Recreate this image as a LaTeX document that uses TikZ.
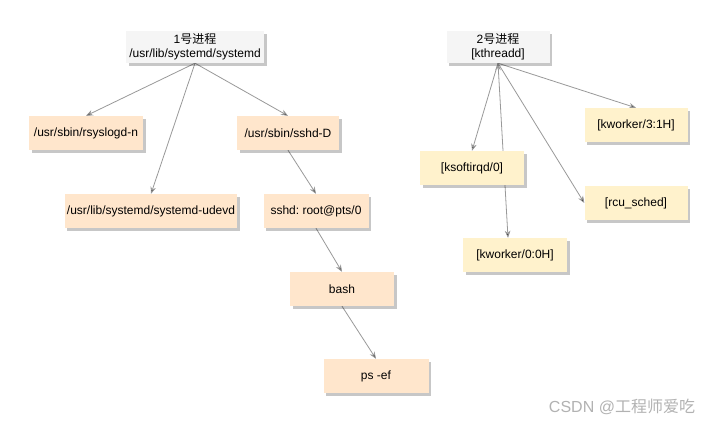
\documentclass[tikz,border=0pt]{standalone}
\usepackage{fontspec}
\setmainfont{Liberation Sans}
\newfontfamily\cjkfont{Noto Sans CJK SC}
\usepackage{tikz}
\usetikzlibrary{arrows.meta,shadows,backgrounds}
\frenchspacing

\definecolor{rootgray}{HTML}{F5F5F5}
\definecolor{peach}{HTML}{FFE6CC}
\definecolor{cream}{HTML}{FFF2CC}
\definecolor{edgegray}{HTML}{999999}

\tikzset{
  proc/.style={rectangle, minimum height=34pt, inner sep=2pt,
    font=\fontsize{12}{14}\selectfont,
    drop shadow={shadow xshift=2.5pt, shadow yshift=-2.5pt, fill=black, opacity=0.22}},
  userproc/.style={proc, fill=peach},
  kernproc/.style={proc, fill=cream},
  rootproc/.style={proc, fill=rootgray, minimum height=32pt, align=center},
  link/.style={draw=edgegray, line width=0.8pt, -{Stealth[length=7pt,width=5.5pt]}}
}

\begin{document}
\begin{tikzpicture}[x=1pt,y=-1pt]
  \useasboundingbox (0,0) rectangle (720,426);

  % user space, started by systemd
  \node[rootproc, minimum width=138pt] (p_1) at (195,47) {1\cjkfont 号进程\\/usr/lib/systemd/systemd};
  \node[userproc, minimum width=114pt] (rsyslogd) at (86,133) {/usr/sbin/rsyslogd-n};
  \node[userproc, minimum width=172pt] (udevd) at (151,211) {/usr/lib/systemd/systemd-udevd};
  \node[userproc, minimum width=102pt] (sshd_d) at (288,133) {/usr/sbin/sshd-D};
  \node[userproc, minimum width=105pt] (sshd_pts) at (316,211) {sshd: root@pts/0};
  \node[userproc, minimum width=104pt] (bash) at (342,289) {bash};
  \node[userproc, minimum width=105pt] (ps) at (376,376) {ps -ef};

  % kernel threads, started by kthreadd
  \node[rootproc, minimum width=103pt] (p_2) at (498,47) {2\cjkfont 号进程\\{}[kthreadd]};
  \node[kernproc, minimum width=104pt] (ksoftirqd) at (472,168) {[ksoftirqd/0]};
  \node[kernproc, minimum width=104pt] (kworker_0) at (515,255) {[kworker/0:0H]};
  \node[kernproc, minimum width=103pt] (rcu_sched) at (636,203) {[rcu\_sched]};
  \node[kernproc, minimum width=103pt] (kworker_3) at (636,125) {[kworker/3:1H]};

  \node[text=gray!60, font=\fontsize{16}{18}\selectfont] (mark) at (622,407) {CSDN @\cjkfont 工程师爱吃};

  \begin{scope}[on background layer]
    \fill[white] (0,0) rectangle (720,426);
    \path[link]
      (p_1.south) edge (rsyslogd.north)
      (p_1.south) edge (udevd.north)
      (p_1.south) edge (sshd_d.north)
      (sshd_d.south) edge (sshd_pts.north)
      (sshd_pts.south) edge (bash.north)
      (bash.south) edge (ps.north)
      (p_2.south) edge (ksoftirqd.north)
      (p_2.south) edge ([xshift=-7pt]kworker_0.north)
      (p_2.south) edge (rcu_sched.west)
      (p_2.south) edge (kworker_3.north)
      ;
  \end{scope}
\end{tikzpicture}
\end{document}
